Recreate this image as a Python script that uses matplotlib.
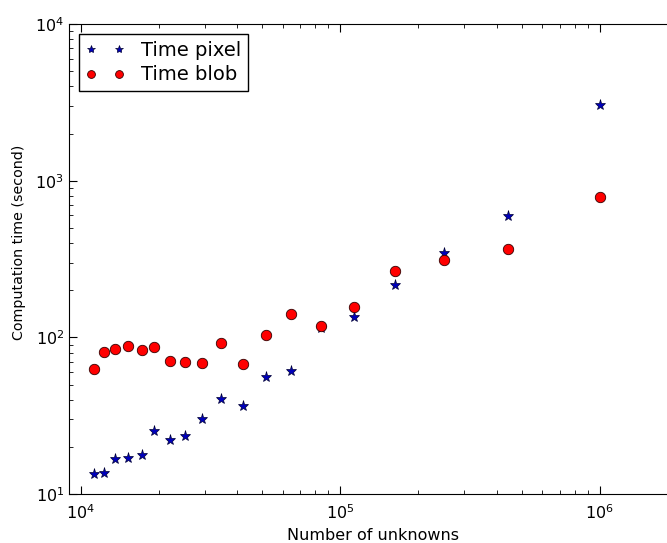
import matplotlib
matplotlib.use("Agg")
import matplotlib.pyplot as plt

# number of unknowns and timings (seconds)
unknowns = [11220, 12300, 13600, 15200, 17200, 19100, 22000, 25100, 29400,
            34800, 42000, 51500, 64600, 84000, 113000, 162000, 251000,
            443000, 1000000]
time_pixel = [13.4, 13.6, 16.7, 17.0, 17.7, 25.2, 22.1, 23.4, 30.1,
              40.4, 36.5, 55.9, 61.0, 114, 135, 216, 345, 594, 3030]
time_blob = [62.8, 80.5, 84, 88, 83, 86.7, 70.6, 69.5, 68.5,
             92, 67.6, 103, 141, 118, 156, 265, 311, 366, 785]

plt.rcParams['font.family'] = 'DejaVu Sans'
plt.rcParams['mathtext.default'] = 'regular'

fig = plt.figure(figsize=(6.67, 5.43), dpi=100)
ax = fig.add_axes([0.1034, 0.0902, 0.913, 0.8656])

ax.plot(unknowns, time_pixel, '*', color='#0000bb', markeredgecolor='#000033',
        markeredgewidth=0.5, markersize=8, label='Time pixel')
ax.plot(unknowns, time_blob, 'o', color='#ff0000', markeredgecolor='#330000',
        markeredgewidth=0.6, markersize=7.5, label='Time blob')

ax.set_xscale('log')
ax.set_yscale('log')
ax.set_xlim(9000, 2e6)
ax.set_ylim(10, 1e4)

ax.tick_params(which='both', direction='in', top=True, right=True, labelsize=11.5)
ax.tick_params(which='major', length=6, width=0.8)
ax.tick_params(which='minor', length=3, width=0.6)
ax.tick_params(axis='x', pad=7)

ax.set_xlabel('Number of unknowns', fontsize=11.5)
ax.set_ylabel('Computation time (second)', fontsize=10.3)
ax.yaxis.set_label_coords(-0.071, 0.535)

leg = ax.legend(loc='upper left', numpoints=2, fancybox=False, framealpha=1,
                edgecolor='black', fontsize=14, borderaxespad=0.5,
                borderpad=0.35, handlelength=2.0, handletextpad=0.85,
                labelspacing=0.3, markerscale=0.75)
leg.get_frame().set_linewidth(1.0)

plt.savefig('out.png', dpi=100)
